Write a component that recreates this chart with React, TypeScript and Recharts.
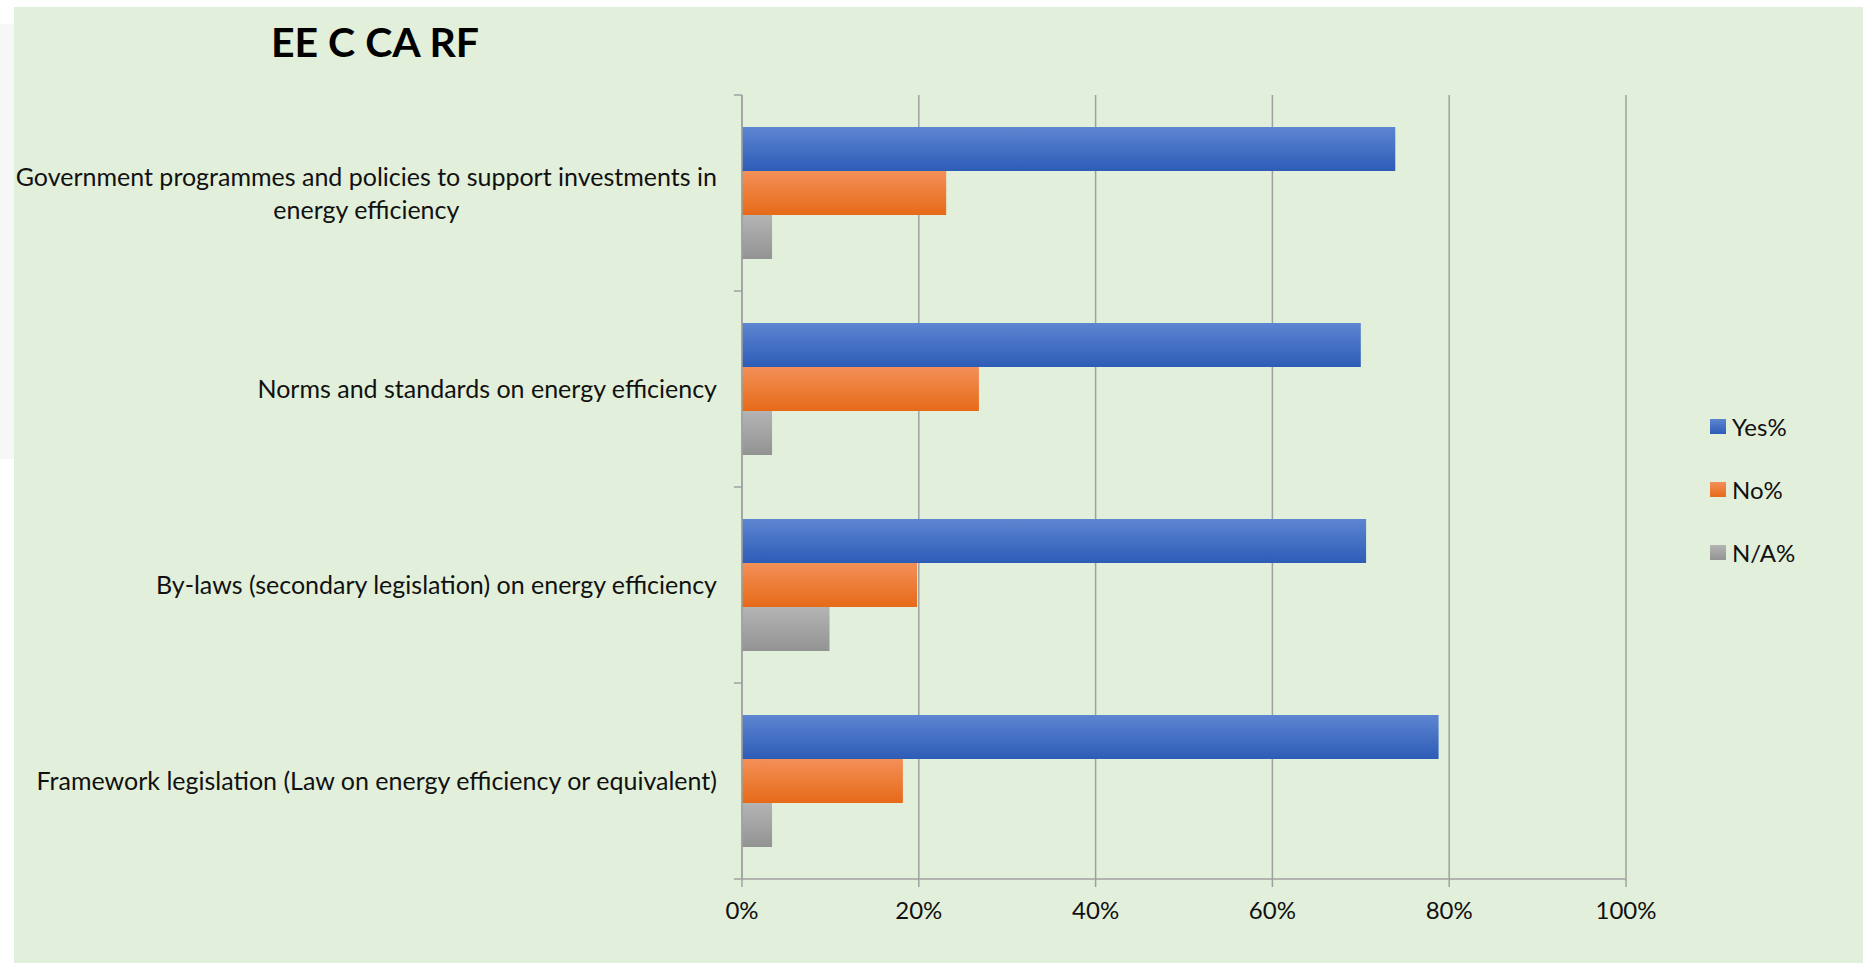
import { useLayoutEffect, useRef, useState } from 'react'
import { Bar, BarChart, CartesianGrid, Legend, XAxis, YAxis } from 'recharts'

const categories = [
  'Government programmes and policies to support investments in energy efficiency',
  'Norms and standards on energy efficiency',
  'By-laws (secondary legislation) on energy efficiency',
  'Framework legislation (Law on energy efficiency or equivalent)',
]
const yesPct = [73.9, 70.0, 70.6, 78.8]
const noPct = [23.1, 26.8, 19.8, 18.2]
const naPct = [3.4, 3.4, 9.9, 3.4]
const xTicks = [0, 20, 40, 60, 80, 100]

const data = categories.map((name, i) => ({ name, yes: yesPct[i], no: noPct[i], na: naPct[i] }))

const series = [
  { key: 'yes', name: 'Yes%', top: '#5d85d1', bottom: '#2d5cb7' },
  { key: 'no', name: 'No%', top: '#f39058', bottom: '#e66a18' },
  { key: 'na', name: 'N/A%', top: '#b4b4b4', bottom: '#939393' },
]

const FONT = 'Lato, "Open Sans", sans-serif'
const INK = '#111'
const AXIS = '#a0a0a0'
const TICK = 8
const Y_MARGIN = 17
const LINE_H = 33

function wrapLabel(text: string, max: number) {
  const lines: string[] = []
  let cur = ''
  for (const w of text.split(' ')) {
    if (cur && (cur + ' ' + w).length > max) {
      lines.push(cur)
      cur = w
    } else cur = cur ? cur + ' ' + w : w
  }
  if (cur) lines.push(cur)
  return lines
}

function CategoryTick(props: any) {
  const { x, y, payload, index } = props
  const lines = wrapLabel(String(payload.value), 62)
  const half = payload.offset ?? 98
  const axisX = x + TICK + Y_MARGIN
  const firstRef = useRef<SVGTextElement>(null)
  const [w, setW] = useState(0)
  useLayoutEffect(() => {
    if (firstRef.current) setW(firstRef.current.getComputedTextLength())
  }, [payload.value])
  const y0 = y - ((lines.length - 1) * LINE_H) / 2
  return (
    <g>
      <line x1={axisX - TICK} x2={axisX} y1={y - half} y2={y - half} stroke={AXIS} strokeWidth={1.5} />
      {index === categories.length - 1 && (
        <line x1={axisX - TICK} x2={axisX} y1={y + half} y2={y + half} stroke={AXIS} strokeWidth={1.5} />
      )}
      {lines.map((ln, i) => (
        <text
          key={i}
          ref={i === 0 ? firstRef : undefined}
          x={i === 0 ? x : x - w / 2}
          y={y0 + i * LINE_H}
          dy="0.36em"
          textAnchor={i === 0 ? 'end' : 'middle'}
          fill={INK}
          fontFamily={FONT}
          fontSize={25}
        >
          {ln}
        </text>
      ))}
    </g>
  )
}

function PctTick({ x, y, payload }: any) {
  return (
    <text x={x} y={y} dy={30} textAnchor="middle" fill={INK} fontFamily={FONT} fontSize={24}>
      {payload.value}%
    </text>
  )
}

function LegendBox({ payload }: any) {
  // recharts hands the payload over reversed for vertical bar layouts; keep series order
  const items = series.filter(s => (payload ?? []).some((p: any) => p.dataKey === s.key))
  return (
    <div style={{ fontFamily: FONT, fontSize: 24, color: INK }}>
      {items.map(s => (
        <div key={s.key} style={{ height: 63, display: 'flex', alignItems: 'center' }}>
          <span
            style={{
              width: 16,
              height: 15,
              marginRight: 6,
              background: `linear-gradient(${s.top}, ${s.bottom})`,
              display: 'inline-block',
            }}
          />
          {s.name}
        </div>
      ))}
    </div>
  )
}

export default function App() {
  return (
    <div style={{ position: 'absolute', left: 0, top: 0, width: 1863, height: 963, background: '#fff' }}>
      <div style={{ position: 'absolute', left: 0, top: 24, width: 14, height: 435, background: '#f7f7f7' }} />
      <div style={{ position: 'absolute', left: 14, top: 7, width: 1849, height: 956, background: '#e2efda' }}>
        <div
          style={{
            position: 'absolute',
            left: 257,
            top: 14,
            fontFamily: FONT,
            fontWeight: 700,
            fontSize: 41,
            lineHeight: '41px',
            color: '#000',
          }}
        >
          EE C CA RF
        </div>
        <BarChart
          width={1849}
          height={956}
          data={data}
          layout="vertical"
          margin={{ top: 88, right: 237, bottom: 0, left: 10 }}
          barSize={44}
          barGap={0}
        >
          <defs>
            {series.map(s => (
              <linearGradient key={s.key} id={`grad-${s.key}`} x1="0" y1="0" x2="0" y2="1">
                <stop offset="0%" stopColor={s.top} />
                <stop offset="100%" stopColor={s.bottom} />
              </linearGradient>
            ))}
          </defs>
          <CartesianGrid horizontal={false} stroke={AXIS} strokeWidth={1.5} />
          <XAxis
            type="number"
            domain={[0, 100]}
            ticks={xTicks}
            height={84}
            tickSize={TICK}
            tickMargin={2}
            stroke={AXIS}
            strokeWidth={1.5}
            tick={<PctTick />}
          />
          <YAxis
            type="category"
            dataKey="name"
            width={718}
            tickLine={false}
            tickSize={TICK}
            tickMargin={Y_MARGIN}
            stroke={AXIS}
            strokeWidth={1.5}
            interval={0}
            tick={<CategoryTick />}
          />
          <Legend
            layout="horizontal"
            verticalAlign="middle"
            align="center"
            wrapperStyle={{ left: 1696, top: 388, width: 150 }}
            content={<LegendBox />}
          />
          {series.map(s => (
            <Bar key={s.key} dataKey={s.key} name={s.name} fill={`url(#grad-${s.key})`} isAnimationActive={false} />
          ))}
        </BarChart>
      </div>
    </div>
  )
}
